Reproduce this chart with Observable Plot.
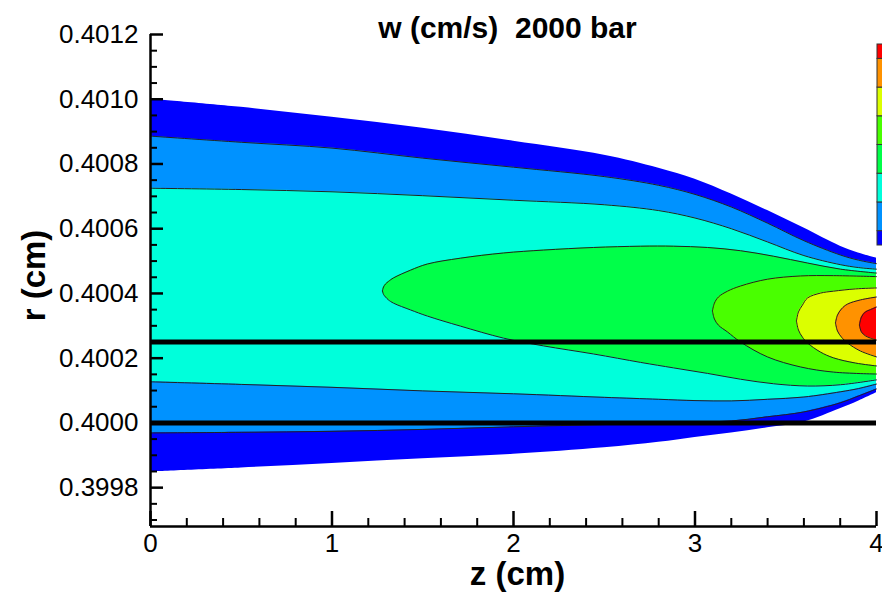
<!DOCTYPE html>
<html><head><meta charset="utf-8">
<script src="https://cdn.jsdelivr.net/npm/d3@7"></script>
<script src="https://cdn.jsdelivr.net/npm/@observablehq/plot@0.6"></script>
<style>
html,body{margin:0;padding:0;background:#fff;overflow:hidden;}
#wrap{position:relative;width:882px;height:592px;}
#bar{position:absolute;left:877px;top:44px;width:12px;height:201px;}
#bar svg{max-width:none !important;width:12px !important;height:201px !important;}
</style></head>
<body><div id="wrap"><div id="main"></div><div id="bar"></div></div>
<script>
// ---- data ----
const titleText = "w (cm/s)  2000 bar";
const xLabel = "z (cm)";
const yLabel = "r (cm)";
const xMajor = [0, 1, 2, 3, 4];
const yMajor = [0.3998, 0.4000, 0.4002, 0.4004, 0.4006, 0.4008, 0.4010, 0.4012];
const wallR = [0.40025, 0.40000];
const levelColors = ["#0000ff", "#0092ff", "#00ffdb", "#00ff49", "#49ff00", "#dbff00", "#ff9200", "#ff0000"];

// open bands (span full z)
const zOpen   = [0, 0.5, 1, 1.5, 2, 2.5, 2.8, 3.0, 3.2, 3.4, 3.6, 3.8, 3.9, 4.0];
const blueHi  = [0.401000, 0.400975, 0.400944, 0.400910, 0.400870, 0.400827, 0.400787, 0.400753, 0.400707, 0.400656, 0.400602, 0.400546, 0.400525, 0.400509];
const blueLo  = [0.399849, 0.399861, 0.399875, 0.399889, 0.399903, 0.399923, 0.399940, 0.399955, 0.399969, 0.399985, 0.400003, 0.400044, 0.400067, 0.400093];
const lblueHi = [0.400886, 0.400867, 0.400849, 0.400818, 0.400790, 0.400761, 0.400734, 0.400706, 0.400667, 0.400617, 0.400563, 0.400519, 0.400503, 0.400492];
const lblueLo = [0.399969, 0.399971, 0.399974, 0.399980, 0.399988, 0.399995, 0.399998, 0.400002, 0.400006, 0.400019, 0.400034, 0.400062, 0.400083, 0.400105];
const cyanHi  = [0.400725, 0.400721, 0.400714, 0.400702, 0.400688, 0.400674, 0.400656, 0.400633, 0.400600, 0.400559, 0.400517, 0.400489, 0.400480, 0.400475];
const cyanLo  = [0.400127, 0.400119, 0.400110, 0.400099, 0.400090, 0.400079, 0.400073, 0.400069, 0.400068, 0.400073, 0.400080, 0.400096, 0.400106, 0.400120];

// closed bands (start at a tip)
const greenZ  = [1.278, 1.284, 1.295, 1.311, 1.339, 1.433, 1.526, 1.708, 1.945, 2.165, 2.441, 2.700, 2.882, 3.069, 3.251, 3.433, 3.620, 3.802, 4.0];
const greenHi = [0.400408, 0.400420, 0.400429, 0.400437, 0.400448, 0.400472, 0.400491, 0.400509, 0.400525, 0.400534, 0.400542, 0.400546, 0.400546, 0.400542, 0.400532, 0.400515, 0.400494, 0.400475, 0.400463];
const greenLo = [0.400408, 0.400397, 0.400389, 0.400380, 0.400370, 0.400349, 0.400330, 0.400299, 0.400262, 0.400238, 0.400213, 0.400187, 0.400170, 0.400153, 0.400135, 0.400121, 0.400114, 0.400118, 0.400133];
const ygZ     = [3.096, 3.107, 3.129, 3.179, 3.251, 3.399, 3.581, 3.763, 4.0];
const ygHi    = [0.400346, 0.400370, 0.400389, 0.400407, 0.400423, 0.400444, 0.400454, 0.400455, 0.400452];
const ygLo    = [0.400346, 0.400321, 0.400302, 0.400281, 0.400250, 0.400204, 0.400173, 0.400157, 0.400151];
const yelZ    = [3.559, 3.570, 3.592, 3.620, 3.691, 3.763, 3.884, 4.0];
const yelHi   = [0.400315, 0.400343, 0.400364, 0.400386, 0.400401, 0.400407, 0.400414, 0.400417];
const yelLo   = [0.400315, 0.400287, 0.400265, 0.400247, 0.400219, 0.400201, 0.400185, 0.400176];
const orZ     = [3.774, 3.785, 3.807, 3.840, 3.912, 4.0];
const orHi    = [0.400309, 0.400333, 0.400352, 0.400367, 0.400380, 0.400389];
const orLo    = [0.400309, 0.400284, 0.400265, 0.400247, 0.400222, 0.400204];
const redZ    = [3.906, 3.917, 3.939, 3.967, 4.0];
const redHi   = [0.400302, 0.400327, 0.400343, 0.400350, 0.400358];
const redLo   = [0.400302, 0.400281, 0.400269, 0.400262, 0.400256];

// ---- layout ----
const W = 882, H = 592, ML = 150, MR = 6, MT = 34, MB = 66;
const frameW = W - ML - MR, frameH = H - MT - MB;
const xDomain = [0, 4], yDomain = [0.39968, 0.4012];
const font = "'Liberation Sans', Arial, Helvetica, sans-serif";

const bands = [
  [zOpen, blueLo, blueHi, false],
  [zOpen, lblueLo, lblueHi, true],
  [zOpen, cyanLo, cyanHi, true],
  [greenZ, greenLo, greenHi, true],
  [ygZ, ygLo, ygHi, true],
  [yelZ, yelLo, yelHi, true],
  [orZ, orLo, orHi, true],
  [redZ, redLo, redHi, true]
];

const yMinor = d3.range(0, 31).map(i => 0.3997 + i * 0.00005).filter(v => !yMajor.some(m => Math.abs(m - v) < 1e-9));
const xMinor = d3.range(0, 21).map(i => i * 0.2).filter(v => Math.abs(v - Math.round(v)) > 1e-9);

const curve = "catmull-rom";
const marks = [];
bands.forEach(([zs, lo, hi, outline], k) => {
  const rows = zs.map((z, i) => ({z, lo: lo[i], hi: hi[i]}));
  marks.push(Plot.areaY(rows, {x: "z", y1: "lo", y2: "hi", fill: levelColors[k], curve}));
});
bands.forEach(([zs, lo, hi, outline]) => {
  if (!outline) return;
  const rows = zs.map((z, i) => ({z, lo: lo[i], hi: hi[i]}));
  marks.push(Plot.line(rows, {x: "z", y: "hi", stroke: "#222", strokeWidth: 1, curve}));
  marks.push(Plot.line(rows, {x: "z", y: "lo", stroke: "#222", strokeWidth: 1, curve}));
});
marks.push(
  Plot.ruleY(wallR, {stroke: "#000", strokeWidth: 5}),
  Plot.tickY(yMinor, {y: d => d, insetRight: frameW - 7, strokeWidth: 2}),
  Plot.tickY(yMajor, {y: d => d, insetRight: frameW - 13, strokeWidth: 2.5}),
  Plot.tickX(xMinor, {x: d => d, insetTop: frameH - 8, strokeWidth: 2}),
  Plot.tickX(xMajor, {x: d => d, insetTop: frameH - 15, strokeWidth: 2.5}),
  Plot.ruleX([xDomain[0]], {strokeWidth: 2.5}),
  Plot.ruleY([yDomain[0]], {strokeWidth: 2.5}),
  Plot.axisY(yMajor, {tickSize: 0, tickPadding: 12, tickFormat: d => d.toFixed(4), fontSize: 26, label: null}),
  Plot.axisX(xMajor, {tickSize: 0, tickPadding: 7, tickFormat: d => String(d), fontSize: 26, label: null}),
  Plot.text([titleText], {text: d => d, frameAnchor: "top", textAnchor: "middle", lineAnchor: "middle", dx: -6, dy: -6, fontSize: 30, fontWeight: "bold"}),
  Plot.text([xLabel], {text: d => d, frameAnchor: "bottom", textAnchor: "middle", lineAnchor: "middle", dx: 4, dy: 48, fontSize: 33, fontWeight: "bold"}),
  Plot.text([yLabel], {text: d => d, frameAnchor: "left", textAnchor: "middle", lineAnchor: "middle", dx: -116, dy: -5, rotate: -90, fontSize: 33, fontWeight: "bold"})
);

const chart = Plot.plot({
  width: W, height: H,
  marginLeft: ML, marginRight: MR, marginTop: MT, marginBottom: MB,
  x: {domain: xDomain, label: null},
  y: {domain: yDomain, label: null},
  style: {fontFamily: font, fontSize: "26px", background: "#fff", color: "#000", overflow: "visible"},
  marks
});
document.getElementById("main").appendChild(chart);

// ---- colour bar (legend) ----
const levelIndex = levelColors.map((c, i) => i);
const bar = Plot.plot({
  width: 12, height: 201, margin: 0,
  x: {domain: [0, 1], axis: null},
  y: {domain: [0, levelColors.length - 1], axis: null},
  color: {type: "identity"},
  style: {background: "transparent", overflow: "visible", maxWidth: "none"},
  marks: [
    Plot.rect(levelIndex, {
      x1: 0, x2: 1,
      y1: d => Math.max(0, d - 0.5),
      y2: d => Math.min(levelColors.length - 1, d + 0.5),
      fill: d => levelColors[d],
      stroke: "#333", strokeWidth: 1
    })
  ]
});
document.getElementById("bar").appendChild(bar);
</script>
</body></html>
